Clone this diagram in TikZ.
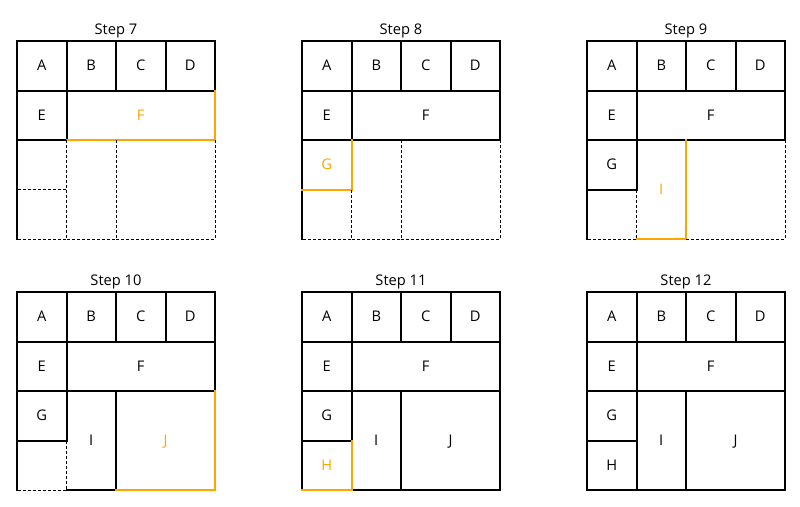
\documentclass[tikz,border=0pt]{standalone}
\usepackage{fontspec}
\setmainfont{Open Sans}
\definecolor{stepline}{RGB}{0,0,0}
\definecolor{neworange}{RGB}{255,165,0}

\tikzset{
  placed/.style={draw=stepline, line width=1.5pt, line cap=rect},
  newest/.style={draw=neworange, line width=1.5pt, line cap=rect},
  planned/.style={draw=stepline, line width=0.75pt, dash pattern=on 2.25pt off 1.5pt},
  blocklabel/.style={font=\fontsize{11}{13}\selectfont, text height=7.8pt, text depth=0pt, inner sep=0pt},
  steptitle/.style={font=\fontsize{11}{13}\selectfont, anchor=base, inner sep=0pt}
}

\begin{document}
\begin{tikzpicture}[x=0.75pt, y=-0.75pt]
  \useasboundingbox (0,0) rectangle (800,507);
  \foreach \s in {7,...,12} {
    \pgfmathtruncatemacro{\k}{\s-1}
    \pgfmathsetmacro{\px}{17+285*mod(\s-7,3)}
    \pgfmathsetmacro{\py}{41+251*floor((\s-7)/3)}
    \begin{scope}[shift={(\px,\py)}, x=37.125pt, y=-37.125pt]
      \node[steptitle] (title\s) at (2,-0.14) {Step \s};
      \draw[placed] (0,4) -- (0,0) -- (4,0);
      % blocks in the order they are placed
      \foreach \name/\xa/\ya/\xb/\yb [count=\i] in {A/0/0/1/1, B/1/0/2/1, C/2/0/3/1, D/3/0/4/1, E/0/1/1/2, F/1/1/4/2, G/0/2/1/3, I/1/2/2/4, J/2/2/4/4, H/0/3/1/4} {
        \ifnum\i<\k
          \draw[placed] (\xb,\ya) -- (\xb,\yb) -- (\xa,\yb);
          \node[blocklabel] (s\s\name) at ({(\xa+\xb)/2},{(\ya+\yb)/2}) {\name};
        \else\ifnum\i=\k
          \draw[newest] (\xb,\ya) -- (\xb,\yb) -- (\xa,\yb);
          \node[blocklabel, text=neworange] (s\s\name) at ({(\xa+\xb)/2},{(\ya+\yb)/2}) {\name};
        \else
          \draw[planned] (\xb,\ya) -- (\xb,\yb) -- (\xa,\yb);
        \fi\fi
      }
    \end{scope}
  }
\end{tikzpicture}
\end{document}
